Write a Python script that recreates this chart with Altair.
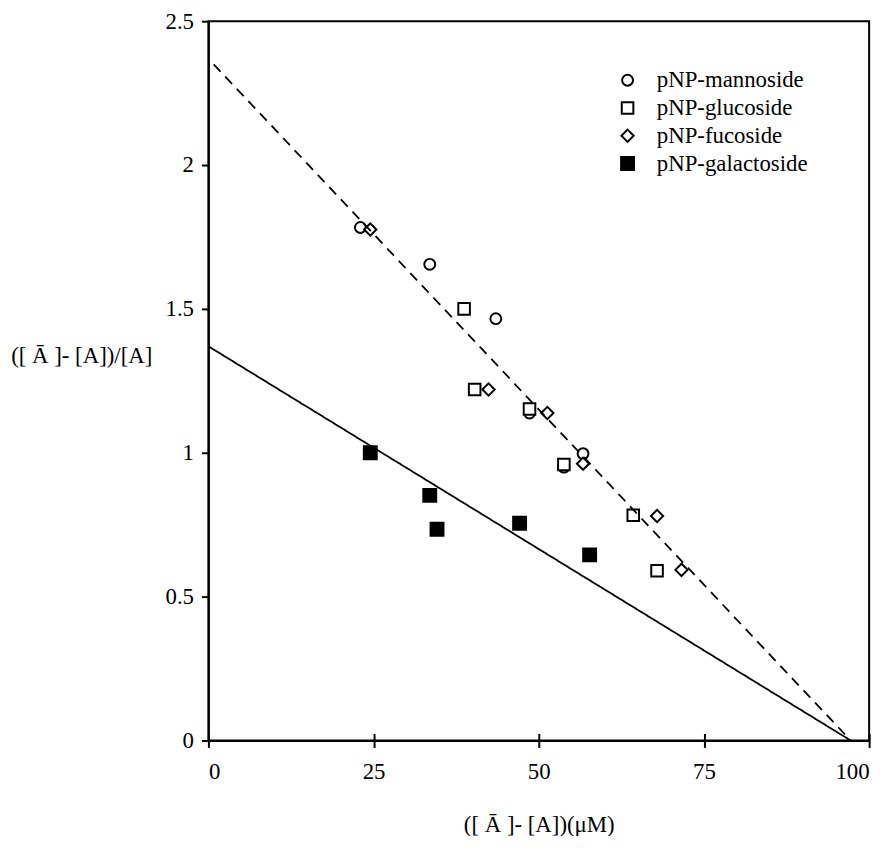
import altair as alt
import pandas as pd

FONT = "Liberation Serif"

series_names = ["pNP-mannoside", "pNP-glucoside", "pNP-fucoside", "pNP-galactoside"]

man_x = [23.0, 33.5, 43.5, 48.6, 53.8, 56.7]
man_y = [1.783, 1.655, 1.466, 1.138, 0.950, 0.997]

glu_x = [38.7, 40.3, 48.6, 53.8, 64.3, 67.9]
glu_y = [1.500, 1.220, 1.152, 0.959, 0.783, 0.590]

fuc_x = [24.5, 42.4, 51.3, 56.7, 67.9, 71.6]
fuc_y = [1.776, 1.220, 1.138, 0.962, 0.780, 0.593]

gal_x = [24.5, 33.5, 34.6, 47.1, 57.7]
gal_y = [1.000, 0.852, 0.734, 0.755, 0.645]

# fitted lines: start/end points
fit_names = ["dashed", "solid"]
fit_x0 = [0.8, 0.0]
fit_y0 = [2.35, 1.37]
fit_x1 = [97.2, 97.2]
fit_y1 = [0.0, 0.0]

x_ticks = [0, 25, 50, 75, 100]
y_ticks = [0, 0.5, 1, 1.5, 2, 2.5]

rows = []
for name, xs, ys in zip(series_names, [man_x, glu_x, fuc_x, gal_x], [man_y, glu_y, fuc_y, gal_y]):
    for xv, yv in zip(xs, ys):
        rows.append({"series": name, "x": xv, "y": yv})
points = pd.DataFrame(rows)

lrows = []
for name, a, b, c, d in zip(fit_names, fit_x0, fit_y0, fit_x1, fit_y1):
    lrows.append({"fit": name, "x": a, "y": b})
    lrows.append({"fit": name, "x": c, "y": d})
lines = pd.DataFrame(lrows)

xscale = alt.Scale(domain=[0, 100], nice=False, zero=False)
yscale = alt.Scale(domain=[0, 2.5], nice=False)

leg = alt.Legend(title=None, orient="none", legendX=411, legendY=48, padding=0,
                 rowPadding=4, labelOffset=18, labelFont=FONT, labelFontSize=23,
                 labelColor="black", symbolStrokeColor="black", symbolStrokeWidth=2)

pts = alt.Chart(points).mark_point(filled=True, strokeWidth=2, opacity=1).encode(
    x=alt.X("x:Q", scale=xscale,
            axis=alt.Axis(values=x_ticks, title="([ Ā ]- [A])(μM)", titleY=85,
                          titleBaseline="middle", labelPadding=13)),
    y=alt.Y("y:Q", scale=yscale,
            axis=alt.Axis(values=y_ticks, title="([ Ā ]- [A])/[A]", titleAngle=0,
                          titleAlign="right", titleBaseline="middle", titleX=-57, titleY=337,
                          labelExpr="datum.value + ''", labelPadding=8)),
    shape=alt.Shape("series:N", scale=alt.Scale(domain=series_names,
                    range=["circle", "square", "diamond", "square"]), legend=leg),
    fill=alt.Fill("series:N", scale=alt.Scale(domain=series_names,
                  range=["white", "white", "white", "black"]), legend=leg),
    stroke=alt.Stroke("series:N", scale=alt.Scale(domain=series_names,
                      range=["black", "black", "black", "black"]), legend=leg),
    size=alt.Size("series:N", scale=alt.Scale(domain=series_names,
                  range=[120, 169, 144, 190]), legend=leg),
)

fits = alt.Chart(lines).mark_line(color="black", strokeWidth=1.8).encode(
    x=alt.X("x:Q", scale=xscale,
            axis=alt.Axis(values=x_ticks, orient="bottom", offset=-7, domain=False,
                          labels=False, title=None, tickSize=7)),
    y=alt.Y("y:Q", scale=yscale),
    detail="fit:N",
    strokeDash=alt.StrokeDash("fit:N", scale=alt.Scale(domain=fit_names,
                              range=[[10, 7], [1, 0]]), legend=None),
)

chart = alt.layer(pts, fits).resolve_scale(x="independent").properties(
    width=666, height=725, background="white",
    autosize=alt.AutoSizeParams(type="none"),
    padding={"left": 202, "top": 10, "right": 17, "bottom": 93},
).configure_view(stroke="black", strokeWidth=2).configure_axis(
    grid=False, labelFont=FONT, labelFontSize=23, labelColor="black",
    titleFont=FONT, titleFontSize=23, titleFontWeight="normal", titleColor="black",
    domainColor="black", domainWidth=2, tickColor="black", tickWidth=2, tickSize=7,
)

chart.save("out.html", embed_options={"renderer": "svg", "actions": False})
